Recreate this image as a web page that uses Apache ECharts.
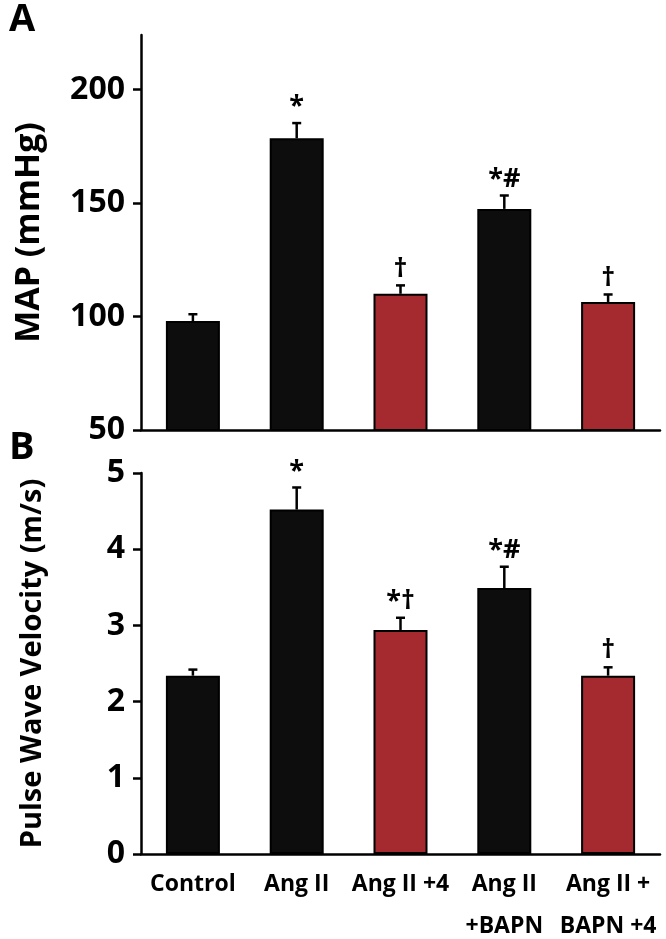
<!DOCTYPE html>
<html><head><meta charset="utf-8">
<script src="https://cdn.jsdelivr.net/npm/echarts@6/dist/echarts.min.js"></script>
<style>html,body{margin:0;padding:0;background:#fff}#c{width:666px;height:939px}</style>
</head><body><div id="c"></div>
<script>
const categories = ['Control', 'Ang II', 'Ang II +4', 'Ang II\n+BAPN', 'Ang II +\nBAPN +4'];
const mapValues = [98, 178.5, 110, 147.4, 106.4];
const mapErrors = [3, 6.7, 3.7, 5.9, 3.3];
const mapMarks = ['', '*', '†', '*#', '†'];
const pwvValues = [2.34, 4.52, 2.94, 3.49, 2.34];
const pwvErrors = [0.08, 0.29, 0.16, 0.28, 0.11];
const pwvMarks = ['', '*', '*†', '*#', '†'];
const mapTicks = [50, 100, 150, 200];
const pwvTicks = [0, 1, 2, 3, 4, 5];
const barGroups = ['ctrl', 'ang', 'treat', 'ang', 'treat'];

const BLACK = '#0d0d0d', RED = '#a52a2f';
const FONT = '"Open Sans", "Liberation Sans", sans-serif';
const chart = echarts.init(document.getElementById('c'), null, {renderer: 'canvas'});

function barData(vals) {
  return vals.map((v, i) => ({
    value: v,
    itemStyle: {color: barGroups[i] === 'treat' ? RED : BLACK, borderColor: '#000', borderWidth: 2}
  }));
}
function errSeries(idx, vals, errs, marks) {
  return {
    type: 'custom', xAxisIndex: idx, yAxisIndex: idx, z: 5,
    data: vals.map((v, i) => [i, v, errs[i]]),
    renderItem: function (params, api) {
      const x = api.value(0), v = api.value(1), e = api.value(2);
      const m = marks[params.dataIndex];
      const p0 = api.coord([x, v]);
      const p1 = api.coord([x, v + e]);
      const children = [
        {type: 'line', shape: {x1: p0[0], y1: p0[1], x2: p1[0], y2: p1[1]}, style: {stroke: '#000', lineWidth: 2.5}},
        {type: 'line', shape: {x1: p1[0] - 4.5, y1: p1[1], x2: p1[0] + 4.5, y2: p1[1]}, style: {stroke: '#000', lineWidth: 2.5}}
      ];
      if (m) {
        children.push({type: 'text', x: p1[0], y: p1[1] - 3, style: {
          text: m, fill: '#000', font: 'bold 27px ' + FONT, align: 'center', verticalAlign: 'bottom'}});
      }
      return {type: 'group', children: children};
    }
  };
}
const axisLineStyle = {color: '#000', width: 2.5};
chart.setOption({
  animation: false,
  graphic: [
    {type: 'text', left: 9, top: 1, style: {text: 'A', font: 'bold 38px ' + FONT, fill: '#000'}},
    {type: 'text', left: 9, top: 429, style: {text: 'B', font: 'bold 38px ' + FONT, fill: '#000'}}
  ],
  grid: [
    {left: 141, right: 6, top: 35, bottom: 509, outerBoundsMode: 'none', containLabel: false},
    {left: 141, right: 6, top: 473, bottom: 85, outerBoundsMode: 'none', containLabel: false}
  ],
  xAxis: [
    {type: 'category', gridIndex: 0, data: categories, axisLine: {lineStyle: axisLineStyle}, axisTick: {show: false}, axisLabel: {show: false}},
    {type: 'category', gridIndex: 1, data: categories, axisLine: {lineStyle: axisLineStyle}, axisTick: {show: false},
     axisLabel: {color: '#000', fontWeight: 'bold', fontSize: 23, fontFamily: FONT, margin: 9, lineHeight: 42, interval: 0}}
  ],
  yAxis: [
    {type: 'value', gridIndex: 0, min: 50, max: 224, interval: 50, splitLine: {show: false},
     axisLine: {show: true, lineStyle: axisLineStyle},
     axisTick: {show: true, length: 8, lineStyle: {color: '#000', width: 2.5}, customValues: mapTicks},
     axisLabel: {color: '#000', fontWeight: 'bold', fontSize: 32, fontFamily: FONT, margin: 16, customValues: mapTicks},
     name: 'MAP (mmHg)', nameLocation: 'middle', nameGap: 95,
     nameTextStyle: {color: '#000', fontWeight: 'bold', fontSize: 34, fontFamily: FONT}},
    {type: 'value', gridIndex: 1, min: 0, max: 5, interval: 1, splitLine: {show: false},
     axisLine: {show: true, lineStyle: axisLineStyle},
     axisTick: {show: true, length: 8, lineStyle: {color: '#000', width: 2.5}, customValues: pwvTicks},
     axisLabel: {color: '#000', fontWeight: 'bold', fontSize: 32, fontFamily: FONT, margin: 16, customValues: pwvTicks},
     name: 'Pulse Wave Velocity (m/s)', nameLocation: 'middle', nameGap: 94,
     nameTextStyle: {color: '#000', fontWeight: 'bold', fontSize: 29, fontFamily: FONT}}
  ],
  series: [
    {type: 'bar', xAxisIndex: 0, yAxisIndex: 0, barWidth: 54, data: barData(mapValues)},
    errSeries(0, mapValues, mapErrors, mapMarks),
    {type: 'bar', xAxisIndex: 1, yAxisIndex: 1, barWidth: 54, data: barData(pwvValues)},
    errSeries(1, pwvValues, pwvErrors, pwvMarks)
  ]
});
</script></body></html>
